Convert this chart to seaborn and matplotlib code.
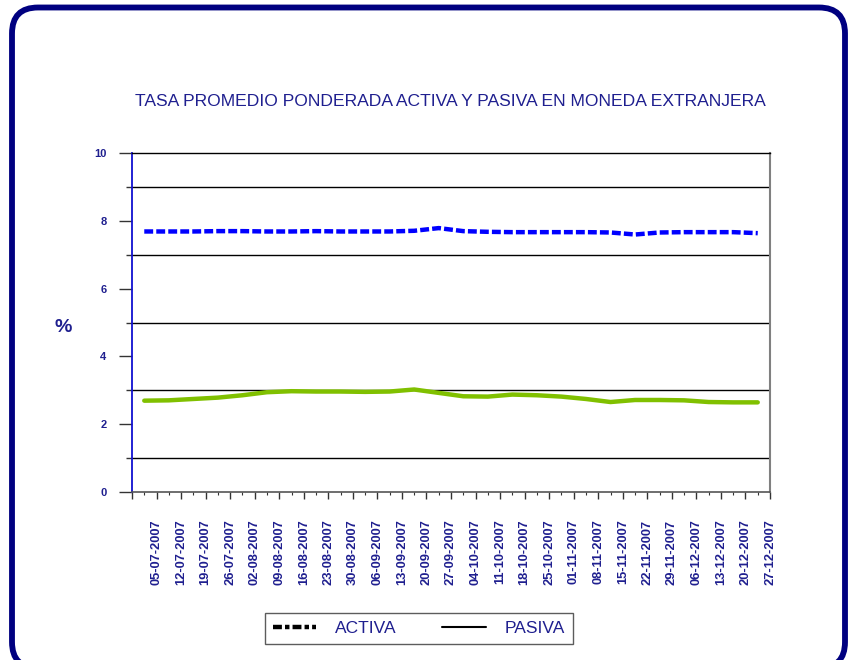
import pandas as pd
import seaborn as sns
import matplotlib.pyplot as plt
from matplotlib.lines import Line2D
from matplotlib.patches import FancyBboxPatch
from matplotlib.ticker import FixedLocator

fechas = ['05-07-2007', '12-07-2007', '19-07-2007', '26-07-2007', '02-08-2007',
          '09-08-2007', '16-08-2007', '23-08-2007', '30-08-2007', '06-09-2007',
          '13-09-2007', '20-09-2007', '27-09-2007', '04-10-2007', '11-10-2007',
          '18-10-2007', '25-10-2007', '01-11-2007', '08-11-2007', '15-11-2007',
          '22-11-2007', '29-11-2007', '06-12-2007', '13-12-2007', '20-12-2007',
          '27-12-2007']
activa = [7.69, 7.69, 7.69, 7.70, 7.70, 7.69, 7.69, 7.70, 7.69, 7.69, 7.69, 7.71, 7.79,
          7.70, 7.68, 7.67, 7.67, 7.67, 7.67, 7.66, 7.60, 7.66, 7.67, 7.67, 7.67, 7.64]
pasiva = [2.69, 2.70, 2.74, 2.78, 2.85, 2.94, 2.97, 2.96, 2.96, 2.95, 2.96, 3.02, 2.92,
          2.82, 2.81, 2.87, 2.85, 2.81, 2.74, 2.65, 2.71, 2.71, 2.70, 2.65, 2.64, 2.64]

NAVY = '#1f1f8f'

sns.set_theme(style='white')
plt.rcParams['font.family'] = ['Liberation Sans', 'DejaVu Sans']

df = pd.DataFrame({
    'semana': list(range(len(fechas))) * 2,
    'tasa': activa + pasiva,
    'serie': ['ACTIVA'] * len(fechas) + ['PASIVA'] * len(fechas),
})

fig = plt.figure(figsize=(8.54, 6.6), dpi=100)
ax = fig.add_axes([132 / 854, 1 - 491.7 / 660, 638 / 854, 338.4 / 660])

sns.lineplot(data=df, x='semana', y='tasa', hue='serie', style='serie',
             palette={'ACTIVA': '#0000ff', 'PASIVA': '#80c000'},
             dashes={'ACTIVA': (2, 0.7), 'PASIVA': ''},
             linewidth=3.2, legend=False, ax=ax)

ax.set_xlim(-0.5, len(fechas) - 0.5)
ax.set_ylim(0, 10)

# x axis: category ticks between points, labels shifted half a slot
ax.xaxis.set_major_locator(FixedLocator([i - 0.5 for i in range(len(fechas) + 1)]))
ax.xaxis.set_minor_locator(FixedLocator(list(range(len(fechas)))))
ax.set_xticklabels([''] + fechas, rotation=90, fontsize=9.3, fontweight='bold',
                   color=NAVY, ha='center', va='top')
ax.tick_params(axis='x', which='major', direction='out', length=5, width=1,
               color='#333333', pad=15, bottom=True)
ax.tick_params(axis='x', which='minor', direction='out', length=2.5, width=0.8,
               color='#333333', bottom=True)

# y axis
ax.set_yticks([0, 2, 4, 6, 8, 10])
ax.set_yticks([1, 3, 5, 7, 9], minor=True)
ax.set_yticklabels(['0', '2', '4', '6', '8', '10'], fontsize=8, fontweight='bold', color=NAVY)
ax.tick_params(axis='y', which='major', direction='out', length=9.4, width=1,
               color='#333333', pad=9, left=True)
ax.tick_params(axis='y', which='minor', direction='out', length=4.5, width=1,
               color='#333333', left=True)
ax.grid(False)
ax.grid(True, which='minor', axis='y', color='black', linewidth=1)

ax.set_xlabel('')
ax.set_ylabel('')

for side in ['top', 'right', 'bottom', 'left']:
    ax.spines[side].set_visible(True)
ax.spines['left'].set_color('#1010d0')
ax.spines['left'].set_linewidth(1.3)
ax.spines['top'].set_color('black')
ax.spines['top'].set_linewidth(1)
ax.spines['right'].set_color('#808080')
ax.spines['right'].set_linewidth(1.5)
ax.spines['bottom'].set_color('#555555')
ax.spines['bottom'].set_linewidth(1.2)

fig.text(450 / 854, 1 - 102 / 660,
         'TASA PROMEDIO PONDERADA ACTIVA Y PASIVA EN MONEDA EXTRANJERA',
         ha='center', va='center', fontsize=12.6, color=NAVY)
fig.text(63 / 854, 1 - 328 / 660, '%', ha='center', va='center',
         fontsize=14, fontweight='bold', color=NAVY)

handles = [Line2D([], [], color='black', linewidth=3.2, dashes=(2, 0.7, 1, 0.7)),
           Line2D([], [], color='black', linewidth=1.5)]
leg = fig.legend(handles, ['ACTIVA', 'PASIVA'], loc='center',
                 bbox_to_anchor=(419 / 854, 1 - 628.5 / 660), ncol=2,
                 fontsize=12.5, frameon=True, fancybox=False, handlelength=2.5,
                 handletextpad=1.1, columnspacing=2.6, borderpad=0.46)
leg.get_frame().set_edgecolor('#333333')
leg.get_frame().set_linewidth(1)
for t in leg.get_texts():
    t.set_color(NAVY)

# rounded outer frame, in pixel coordinates
marco = FancyBboxPatch((12, -8), 833, 660.5, boxstyle='round,pad=0,rounding_size=26',
                       transform=None, facecolor='none', edgecolor='#000080',
                       linewidth=4.2, zorder=10)
fig.add_artist(marco)

fig.savefig('out.png', dpi=100)
